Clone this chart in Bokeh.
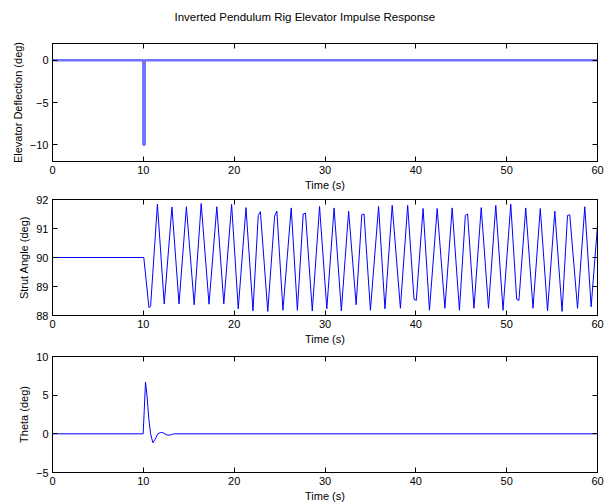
from bokeh.plotting import figure
from bokeh.layouts import column
from bokeh.models import (LinearAxis, FixedTicker, Range1d,
                          CustomJSTickFormatter, Label)
from bokeh.embed import file_html
from bokeh.resources import INLINE

# --- data -------------------------------------------------------------
x_ticks = [0, 10, 20, 30, 40, 50, 60]

# elevator impulse command (deg)
elev_t = [0, 10.0, 10.0, 10.15, 10.15, 60]
elev_deg = [0, 0, -10, -10, 0, 0]

# strut angle response (deg), sampled turning points
strut_t = [0, 10.05, 10.62, 10.8, 11.55, 12.3, 13.15, 13.93, 14.74, 15.6,
           16.37, 17.23, 18.09, 18.86, 19.72, 20.45, 21.3, 22.07, 22.65, 22.89,
           23.7, 24.45, 24.7, 25.37, 26.28, 26.96, 27.6, 27.85, 28.6, 29.4,
           30.2, 31.0, 31.8, 32.6, 33.43, 34.05, 34.3, 35.0, 35.9, 36.6,
           37.4, 38.3, 39.1, 39.8, 40.05, 40.8, 41.5, 42.35, 43.2, 44.0,
           44.8, 45.45, 45.7, 46.4, 47.2, 48.0, 48.8, 49.6, 50.45, 51.1,
           51.35, 52.1, 52.9, 53.7, 54.5, 55.3, 56.1, 56.7, 56.95, 57.8,
           58.6, 59.3, 60.0]
strut_deg = [90.0, 90.0, 88.27, 88.32, 91.84, 88.4, 91.74, 88.4, 91.75, 88.37,
             91.86, 88.39, 91.75, 88.4, 91.83, 88.23, 91.72, 88.16, 91.45, 91.58,
             88.14, 91.42, 91.6, 88.18, 91.71, 88.18, 91.5, 91.53, 88.16, 91.76,
             88.23, 91.71, 88.16, 91.6, 88.37, 91.47, 91.5, 88.18, 91.76, 88.23,
             91.8, 88.25, 91.8, 88.56, 88.52, 91.69, 88.18, 91.69, 88.25, 91.71,
             88.18, 91.45, 91.5, 88.25, 91.72, 88.25, 91.8, 88.18, 91.84, 88.56,
             88.52, 91.71, 88.25, 91.69, 88.16, 91.6, 88.14, 91.45, 91.47, 88.25,
             91.75, 88.3, 91.1]

# pitch angle response (deg)
theta_t = [0, 9.98, 10.1, 10.24, 10.4, 10.6, 10.8, 11.05, 11.3, 11.6,
           11.9, 12.2, 12.5, 12.8, 13.1, 13.4, 60]
theta_deg = [0, 0, 3.0, 6.7, 5.0, 2.0, 0.0, -1.15, -0.7, 0.0,
             0.18, 0.12, -0.1, -0.18, -0.1, 0.0, 0]

FONT = "Liberation Sans"
FS = "11px"
TITLE = "Inverted Pendulum Rig Elevator Impulse Response"


def make_panel(height, top, bottom, y_range, y_ticks, y_label):
    p = figure(width=609, height=height, output_backend="svg",
               toolbar_location=None, x_range=Range1d(0, 60),
               y_range=Range1d(*y_range),
               min_border_left=52, min_border_right=12,
               min_border_top=top, min_border_bottom=bottom)
    p.grid.visible = False
    p.outline_line_color = "black"
    p.outline_line_width = 1
    p.background_fill_color = "white"
    p.border_fill_color = "white"

    p.xaxis.ticker = FixedTicker(ticks=x_ticks)
    p.yaxis.ticker = FixedTicker(ticks=y_ticks)
    p.xaxis.axis_label = "Time (s)"
    p.yaxis.axis_label = y_label
    for ax in (p.xaxis, p.yaxis):
        ax.major_tick_in = 5
        ax.major_tick_out = 0
        ax.minor_tick_in = 0
        ax.minor_tick_out = 0
        ax.axis_line_color = "black"
        ax.major_tick_line_color = "black"
        ax.major_label_text_font = FONT
        ax.major_label_text_font_size = FS
        ax.major_label_text_color = "black"
        ax.axis_label_text_font = FONT
        ax.axis_label_text_font_size = FS
        ax.axis_label_text_font_style = "normal"
        ax.axis_label_text_color = "black"
    p.xaxis.major_label_standoff = 4
    p.xaxis.axis_label_standoff = 2
    p.yaxis.major_label_standoff = 4
    p.yaxis.axis_label_standoff = 3

    # box-style ticks on the top and right edges
    blank = CustomJSTickFormatter(code="return ''")
    for side, ticks in (("above", x_ticks), ("right", y_ticks)):
        ax = LinearAxis(ticker=FixedTicker(ticks=ticks), formatter=blank,
                        major_tick_in=5, major_tick_out=0,
                        minor_tick_in=0, minor_tick_out=0,
                        major_label_text_font_size="0px",
                        major_label_standoff=0,
                        axis_line_color="black",
                        major_tick_line_color="black")
        p.add_layout(ax, side)
    return p


# header strip holding the figure title; its frame is aligned with the
# panels below (x 52..597), so the range spans the full page width
# mapped onto that frame to keep the title centred on the page
head = figure(width=609, height=36, output_backend="svg",
              toolbar_location=None, x_range=Range1d(0, 609),
              y_range=Range1d(0, 36), x_axis_location=None,
              y_axis_location=None, min_border=0)
head.grid.visible = False
head.outline_line_color = None
head.add_layout(Label(x=282, y=20, text=TITLE,
                      text_align="center", text_baseline="middle",
                      text_font=FONT, text_font_size="11.5px",
                      text_color="black"))

p1 = make_panel(157, 7, 31, (-12, 2), [-10, -5, 0],
                "Elevator Deflection (deg)")
p1.line(elev_t, elev_deg, line_color="#7373ff", line_width=2.5)

p2 = make_panel(154, 6, 31, (88, 92), [88, 89, 90, 91, 92],
                "Strut Angle (deg)")
p2.line(strut_t, strut_deg, line_color="#0000ff", line_width=1)

p3 = make_panel(157, 9, 32, (-5, 10), [-5, 0, 5, 10], "Theta (deg)")
p3.line(theta_t, theta_deg, line_color="#0000ff", line_width=1)

layout = column(head, p1, p2, p3, spacing=0)
open("out.html", "w").write(file_html(layout, INLINE))
